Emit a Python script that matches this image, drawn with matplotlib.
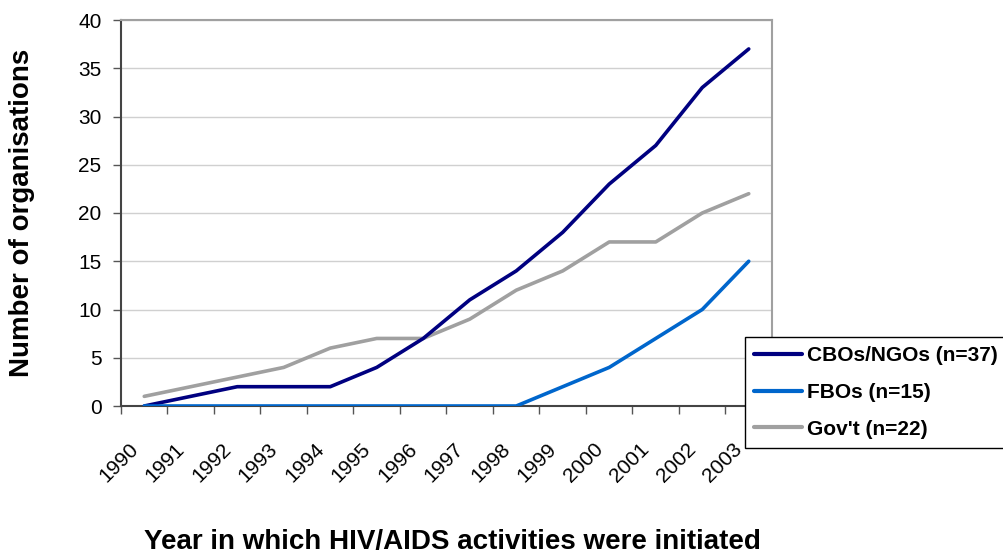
import matplotlib
matplotlib.use("Agg")
import matplotlib.pyplot as plt
import matplotlib.transforms as mtransforms
import numpy as np

plt.rcParams["font.family"] = ["Liberation Sans", "DejaVu Sans"]

years = ["1990", "1991", "1992", "1993", "1994", "1995", "1996",
         "1997", "1998", "1999", "2000", "2001", "2002", "2003"]
cbos_ngos = [0, 1, 2, 2, 2, 4, 7, 11, 14, 18, 23, 27, 33, 37]
fbos = [0, 0, 0, 0, 0, 0, 0, 0, 0, 2, 4, 7, 10, 15]
govt = [1, 2, 3, 4, 6, 7, 7, 9, 12, 14, 17, 17, 20, 22]

fig = plt.figure(figsize=(10.04, 5.54), dpi=100)
ax = fig.add_axes([121 / 1004, 1 - 406 / 554, 651 / 1004, 386 / 554])

x = np.arange(len(years))
ax.plot(x, cbos_ngos, color="#000080", lw=2.6, label="CBOs/NGOs (n=37)",
        solid_capstyle="round", zorder=3)
ax.plot(x, fbos, color="#0066CC", lw=2.6, label="FBOs (n=15)",
        solid_capstyle="round", zorder=3)
ax.plot(x, govt, color="#A0A0A0", lw=2.6, label="Gov't (n=22)",
        solid_capstyle="round", zorder=2)

ax.set_xlim(-0.5, len(years) - 0.5)
ax.set_ylim(0, 40)
ax.set_yticks(range(0, 41, 5))
ax.yaxis.grid(True, color="#D0D0D0", lw=1)
ax.set_axisbelow(True)

ax.set_xticks(x)
ax.set_xticklabels(years, rotation=45, ha="right", va="top",
                   rotation_mode="anchor")
ax.set_xticks(np.arange(-0.5, len(years)), minor=True)
ax.tick_params(axis="x", which="major", length=0, pad=24, labelsize=15)
ax.tick_params(axis="x", which="minor", length=6, width=1, color="#555555")
ax.tick_params(axis="y", length=6, width=1, color="#555555", labelsize=15,
               pad=8)
shift = mtransforms.ScaledTranslation(-0.16, 0, fig.dpi_scale_trans)
for lab in ax.get_xticklabels():
    lab.set_transform(lab.get_transform() + shift)

for side in ("top", "right"):
    ax.spines[side].set_color("#A0A0A0")
    ax.spines[side].set_linewidth(1.5)
for side in ("left", "bottom"):
    ax.spines[side].set_color("#444444")
    ax.spines[side].set_linewidth(1.5)

fig.text(22 / 1004, 1 - 213 / 554, "Number of organisations", rotation=90,
         ha="center", va="center", fontsize=20, fontweight="bold")
fig.text(452 / 1004, 1 - 542 / 554,
         "Year in which HIV/AIDS activities were initiated",
         ha="center", va="center", fontsize=20, fontweight="bold")

leg = fig.legend(loc="upper left", bbox_to_anchor=(745 / 1004, 1 - 337 / 554),
                 frameon=True, fancybox=False, framealpha=1,
                 edgecolor="black", handlelength=2.3, handletextpad=0.25,
                 labelspacing=0.85, borderpad=0.45, borderaxespad=0,
                 prop={"weight": "bold", "size": 15})
leg.get_frame().set_linewidth(1)
for line in leg.get_lines():
    line.set_linewidth(3)

fig.savefig("out.png", dpi=100)
